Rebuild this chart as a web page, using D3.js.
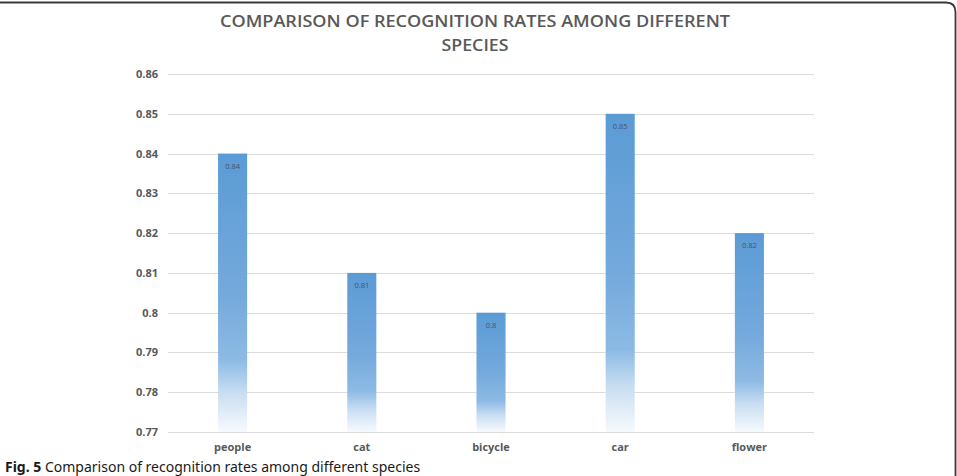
<!DOCTYPE html>
<html>
<head>
<meta charset="utf-8">
<script src="https://cdn.jsdelivr.net/npm/d3@7"></script>
<style>
body { margin: 0; background: #fff; }
svg { display: block; }
</style>
</head>
<body>
<script>
// chart data
var categories = ["people", "cat", "bicycle", "car", "flower"];
var rates = [0.84, 0.81, 0.80, 0.85, 0.82];
var yTicks = [0.77, 0.78, 0.79, 0.80, 0.81, 0.82, 0.83, 0.84, 0.85, 0.86];
var titleLines = ["COMPARISON OF RECOGNITION RATES AMONG DIFFERENT", "SPECIES"];

var width = 957;
var height = 476;

var svg = d3.select("body").append("svg")
	.attr("width", width)
	.attr("height", height);

// gradient used by each bar (per bar box)
var defs = svg.append("defs");
var grad = defs.append("linearGradient")
	.attr("id", "barFill")
	.attr("x1", 0).attr("y1", 0)
	.attr("x2", 0).attr("y2", 1);
grad.append("stop").attr("offset", "0").attr("stop-color", "#5b9bd5");
grad.append("stop").attr("offset", "0.5").attr("stop-color", "#74a9dc");
grad.append("stop").attr("offset", "0.74").attr("stop-color", "#8cbae4");
grad.append("stop").attr("offset", "0.86").attr("stop-color", "#c9def2");
grad.append("stop").attr("offset", "1").attr("stop-color", "#f7fafd");

// frame (top + right edge, rounded corner)
svg.append("path")
	.attr("d", "M0,2.5 H946 Q955.5,2.5 955.5,12 V476")
	.attr("fill", "none")
	.attr("stroke", "#3a3a3a")
	.attr("stroke-width", 1.8);

// scales
var x = d3.scaleBand()
	.domain(categories)
	.range([168, 814])
	.paddingInner(0.775)
	.paddingOuter(0.3875);

var y = d3.scaleLinear()
	.domain([0.77, 0.86])
	.range([432, 74]);

// title
svg.append("g").selectAll("text")
	.data(titleLines)
	.enter()
	.append("text")
	.attr("x", 475)
	.attr("y", function(d, i) { return 27 + i * 24; })
	.attr("text-anchor", "middle")
	.attr("font-family", "Open Sans, sans-serif")
	.attr("font-weight", 600)
	.attr("font-size", 15.5)
	.attr("fill", "#595959")
	.attr("textLength", function(d, i) { return i == 0 ? 510 : 67; })
	.attr("lengthAdjust", "spacingAndGlyphs")
	.text(function(d) { return d; });

// gridlines
svg.append("g").selectAll("line")
	.data(yTicks)
	.enter()
	.append("line")
	.attr("x1", 168)
	.attr("x2", 814)
	.attr("y1", function(d) { return Math.round(y(d)) + 0.5; })
	.attr("y2", function(d) { return Math.round(y(d)) + 0.5; })
	.attr("stroke", "#dcdcdc")
	.attr("stroke-width", 1);

// y axis labels
var yAxis = d3.axisLeft(y)
	.tickValues(yTicks)
	.tickSize(0)
	.tickPadding(0)
	.tickFormat(d3.format(""));
var yG = svg.append("g")
	.attr("transform", "translate(158,0)")
	.call(yAxis);
yG.select(".domain").remove();
yG.selectAll("text")
	.attr("font-family", "Open Sans, sans-serif")
	.attr("font-weight", 700)
	.attr("font-size", 11)
	.attr("fill", "#595959");

// bars
svg.append("g").selectAll("rect")
	.data(rates)
	.enter()
	.append("rect")
	.attr("x", function(d, i) { return x(categories[i]); })
	.attr("y", function(d) { return y(d); })
	.attr("width", x.bandwidth())
	.attr("height", function(d) { return y(0.77) - y(d); })
	.attr("fill", "url(#barFill)");

// value labels
svg.append("g").selectAll("text")
	.data(rates)
	.enter()
	.append("text")
	.attr("x", function(d, i) { return x(categories[i]) + x.bandwidth() / 2; })
	.attr("y", function(d) { return y(d) + 15; })
	.attr("text-anchor", "middle")
	.attr("font-family", "Open Sans, sans-serif")
	.attr("font-size", 7.5)
	.attr("fill", "#44546a")
	.text(function(d) { return d3.format("")(d); });

// x axis labels
var xAxis = d3.axisBottom(x).tickSize(0).tickPadding(0);
var xG = svg.append("g")
	.attr("transform", "translate(0,443)")
	.call(xAxis);
xG.select(".domain").remove();
xG.selectAll("text")
	.attr("dy", "0.71em")
	.attr("font-family", "Open Sans, sans-serif")
	.attr("font-weight", 700)
	.attr("font-size", 11)
	.attr("fill", "#595959");

// caption
var cap = svg.append("text")
	.attr("x", 5)
	.attr("y", 472)
	.attr("font-family", "Noto Sans, sans-serif")
	.attr("font-size", 14)
	.attr("fill", "#1a1a1a");
cap.append("tspan").attr("font-weight", 700).text("Fig. 5");
cap.append("tspan").text(" Comparison of recognition rates among different species");
</script>
</body>
</html>
